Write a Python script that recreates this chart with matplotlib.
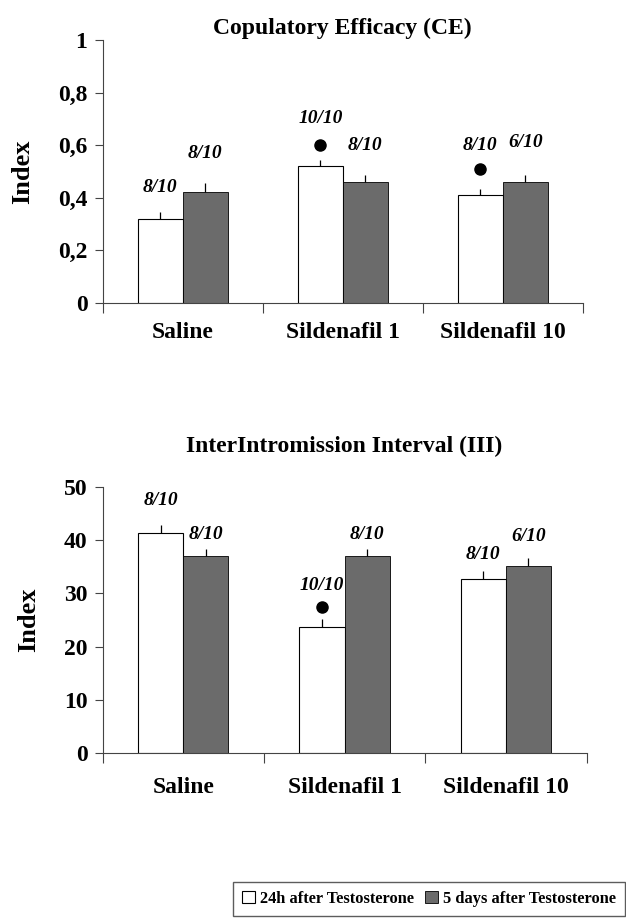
import matplotlib.pyplot as plt
import numpy as np
from matplotlib.patches import Patch

plt.rcParams['font.family'] = ['Liberation Serif', 'DejaVu Serif']
plt.rcParams['font.weight'] = 'bold'
plt.rcParams['axes.titleweight'] = 'bold'
plt.rcParams['axes.labelweight'] = 'bold'

groups = ["Saline", "Sildenafil 1", "Sildenafil 10"]
series = ["24h after Testosterone", "5 days after Testosterone"]

# Copulatory Efficacy
ce_24h = [0.32, 0.52, 0.41]
ce_24h_err = [0.025, 0.022, 0.022]
ce_5d = [0.42, 0.46, 0.46]
ce_5d_err = [0.035, 0.027, 0.027]
ce_n_24h = ["8/10", "10/10", "8/10"]
ce_n_5d = ["8/10", "8/10", "6/10"]
ce_n_24h_y = [0.44, 0.70, 0.60]
ce_n_5d_y = [0.57, 0.60, 0.61]
ce_dots = [None, 0.60, 0.51]

# InterIntromission Interval
iii_24h = [41.25, 23.6, 32.7]
iii_24h_err = [1.55, 1.6, 1.5]
iii_5d = [37.05, 37.05, 35.1]
iii_5d_err = [1.2, 1.35, 1.5]
iii_n_24h = ["8/10", "10/10", "8/10"]
iii_n_5d = ["8/10", "8/10", "6/10"]
iii_n_24h_y = [47.4, 31.4, 37.3]
iii_n_5d_y = [41.1, 41.1, 40.7]
iii_dots = [None, 27.4, None]

grey = "#6b6b6b"
w = 0.28

fig = plt.figure(figsize=(6.26, 9.18), dpi=100)


def panel(rect, title, title_pad, xpad, v1, e1, v2, e2, n1, n2, n1y, n2y, dots,
          ymax, yticks, yticklabels):
    ax = fig.add_axes(rect)
    x = np.arange(3) + 0.5
    ax.bar(x - w / 2, v1, w, color="white", edgecolor="black", linewidth=0.8, zorder=2)
    ax.bar(x + w / 2, v2, w, color=grey, edgecolor="black", linewidth=0.6, zorder=2)
    # upward-only error bars, no caps
    ax.errorbar(x - w / 2, v1, yerr=[np.zeros(3), e1], fmt="none", ecolor="black",
                elinewidth=0.9, capsize=0, zorder=3)
    ax.errorbar(x + w / 2, v2, yerr=[np.zeros(3), e2], fmt="none", ecolor="black",
                elinewidth=0.9, capsize=0, zorder=3)
    for i in range(3):
        ax.text(x[i] - w / 2, n1y[i], n1[i], ha="center", va="center",
                style="italic", fontsize=14)
        ax.text(x[i] + w / 2, n2y[i], n2[i], ha="center", va="center",
                style="italic", fontsize=14)
        if dots[i] is not None:
            ax.plot(x[i] - w / 2, dots[i], "o", color="black", markersize=8)
    ax.set_xlim(0, 3)
    ax.set_ylim(0, ymax)
    ax.spines["top"].set_visible(False)
    ax.spines["right"].set_visible(False)
    ax.spines["left"].set_color("#444444")
    ax.spines["bottom"].set_color("#444444")
    ax.set_xticks([0, 1, 2, 3])
    ax.set_xticklabels([])
    ax.set_xticks(x, minor=True)
    ax.set_xticklabels(groups, minor=True, fontsize=17)
    ax.tick_params(axis="x", which="minor", length=0, pad=xpad)
    ax.tick_params(axis="x", which="major", length=7, direction="out", color="#444444")
    ax.set_yticks(yticks)
    ax.set_yticklabels(yticklabels, fontsize=17)
    ax.tick_params(axis="y", length=6, direction="out", color="#444444", pad=5)
    ax.set_ylabel("Index", fontsize=19, labelpad=17)
    ax.set_title(title, fontsize=17, pad=title_pad)
    return ax


panel([0.164, 0.670, 0.767, 0.2865], "Copulatory Efficacy (CE)", 4, 14,
      ce_24h, ce_24h_err, ce_5d, ce_5d_err, ce_n_24h, ce_n_5d, ce_n_24h_y, ce_n_5d_y,
      ce_dots, 1.0, [0, 0.2, 0.4, 0.6, 0.8, 1.0], ["0", "0,2", "0,4", "0,6", "0,8", "1"])

panel([0.164, 0.1794, 0.773, 0.2905], "InterIntromission Interval (III)", 25, 17,
      iii_24h, iii_24h_err, iii_5d, iii_5d_err, iii_n_24h, iii_n_5d, iii_n_24h_y, iii_n_5d_y,
      iii_dots, 50, [0, 10, 20, 30, 40, 50], ["0", "10", "20", "30", "40", "50"])

handles = [Patch(facecolor="white", edgecolor="black", linewidth=0.8),
           Patch(facecolor=grey, edgecolor="black", linewidth=0.6)]
leg = fig.legend(handles, series, loc="upper left", bbox_to_anchor=(0.372, 0.0395),
                 ncol=2, fontsize=11.8, frameon=True, fancybox=False,
                 handlelength=0.8, handleheight=0.8, handletextpad=0.3, columnspacing=0.7,
                 borderpad=0.55, borderaxespad=0)
leg.get_frame().set_edgecolor("#333333")
leg.get_frame().set_linewidth(1.0)

fig.savefig("out.png", dpi=100)
